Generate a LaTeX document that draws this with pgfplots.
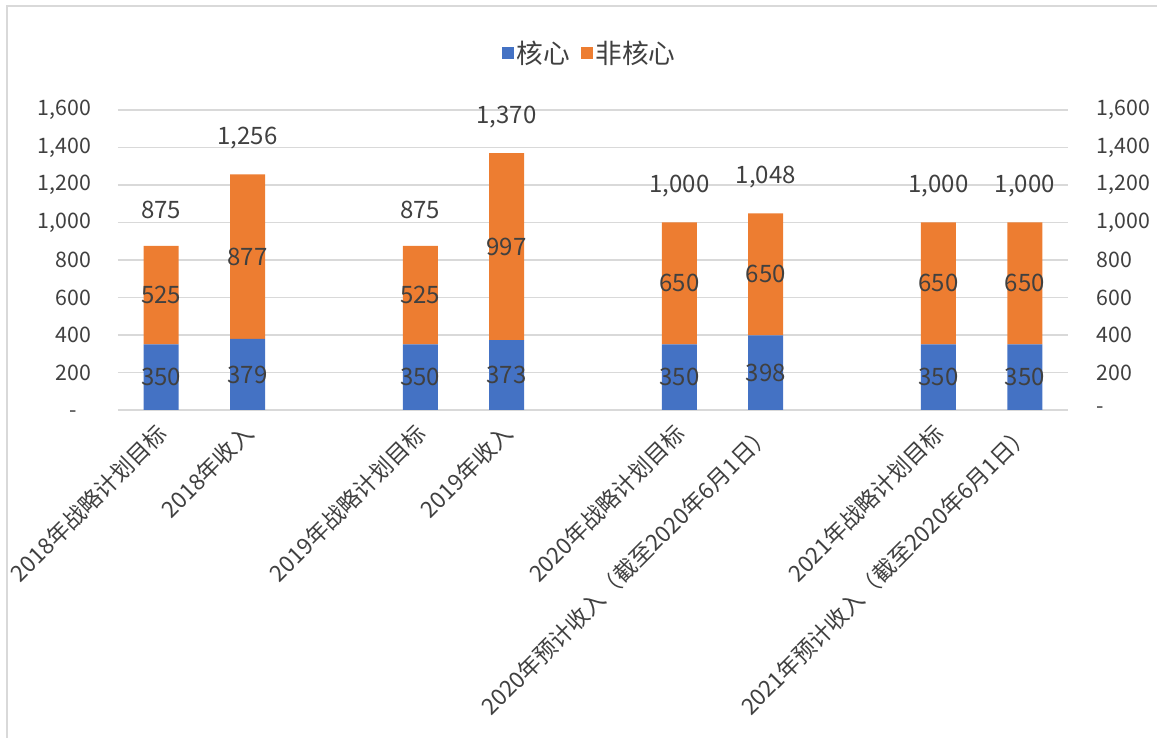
\documentclass[border=0pt]{standalone}
\usepackage{fontspec}
\setmainfont{Noto Sans CJK SC}
\usepackage{pgfplots}
\pgfplotsset{compat=1.18}

\definecolor{core}{HTML}{4472C4}
\definecolor{noncore}{HTML}{ED7D31}
\definecolor{gridc}{HTML}{D9D9D9}
\definecolor{txt}{HTML}{404040}

\newcommand{\tickfont}{\fontsize{16}{18}\selectfont}
\newcommand{\catfont}{\fontsize{17}{19}\selectfont}
\newcommand{\labfont}{\fontsize{18}{20}\selectfont}

\pgfplotsset{
  sheet/.style={
    at={(88.5pt,246pt)}, anchor=south west,
    scale only axis, width=712.5pt, height=225pt,
    xmin=-0.5, xmax=10.5, ymin=0, ymax=1600,
    ytick={0,200,...,1600},
    axis line style={draw=none},
    tick style={draw=none},
    tick label style={font=\tickfont, text=txt},
  },
  sq legend/.style={
    legend image code/.code={\fill[##1] (0pt,-4.5pt) rectangle (9pt,4.5pt);}
  },
  % segment value printed in the middle of its segment
  mid label/.style={
    visualization depends on=rawy \as \rawy,
    nodes near coords={\pgfmathprintnumber{\rawy}},
    every node near coord/.style={anchor=center, font=\labfont, text=txt},
  },
}

\begin{document}
\begin{tikzpicture}
\path[use as bounding box] (0pt,0pt) rectangle (867.75pt,553.5pt);
\draw[gridc, line width=1.2pt] (5.25pt,0pt) -- (5.25pt,549pt) -- (867.75pt,549pt);

\begin{axis}[
  sheet,
  ybar stacked,
  bar width=26.25pt,
  ymajorgrids,
  grid style={gridc, line width=1pt},
  xtick={0,1,3,4,6,7,9,10},
  xticklabels={2018年战略计划目标, 2018年收入, 2019年战略计划目标, 2019年收入,
    2020年战略计划目标, 2020年预计收入（截至2020年6月1日）,
    2021年战略计划目标, 2021年预计收入（截至2020年6月1日）},
  xticklabel style={rotate=45, anchor=east, font=\catfont, xshift=-6pt, yshift=-11pt},
  yticklabels={{-\phantom{0}\kern2pt}, 200, 400, 600, 800, {1,000}, {1,200}, {1,400}, {1,600}},
  yticklabel style={xshift=-16.5pt},
  /pgf/number format/assume math mode=true,
  /pgf/number format/1000 sep={,},
  legend style={at={(0.497,1.19)}, anchor=center, draw=none, fill=none,
    legend columns=-1, font=\fontsize{20}{22}\selectfont, text=txt,
    /tikz/every even column/.append style={column sep=6pt}},
]

% core
\addplot[fill=core, draw=none, sq legend, mid label] coordinates {
  (0,350) (1,379) (3,350) (4,373) (6,350) (7,398) (9,350) (10,350)
};
\addlegendentry{核心}

% non-core
\addplot[fill=noncore, draw=none, sq legend, mid label] coordinates {
  (0,525) (1,877) (3,525) (4,997) (6,650) (7,650) (9,650) (10,650)
};
\addlegendentry{非核心}
\end{axis}

\begin{axis}[
  sheet,
  hide x axis,
  axis y line*=right,
  yticklabels={-, 200, 400, 600, 800, {1,000}, {1,200}, {1,400}, {1,600}},
  yticklabel style={anchor=west, xshift=18pt},
  /pgf/number format/assume math mode=true,
  /pgf/number format/1000 sep={,},
]
% totals above the bars
\addplot[only marks, mark=none, point meta=explicit,
  nodes near coords,
  every node near coord/.style={anchor=center, font=\labfont, text=txt, yshift=27pt},
] coordinates {
  (0,875) [875] (1,1256) [1256] (3,875) [875] (4,1370) [1370]
  (6,1000) [1000] (7,1048) [1048] (9,1000) [1000] (10,1000) [1000]
};
\end{axis}
\end{tikzpicture}
\end{document}
